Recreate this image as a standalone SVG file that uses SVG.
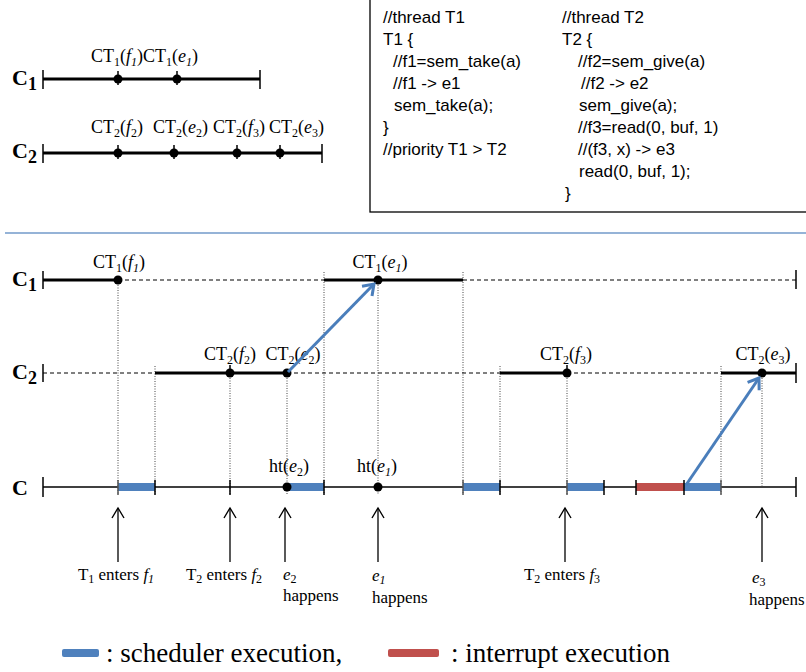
<svg xmlns="http://www.w3.org/2000/svg" width="806" height="672" viewBox="0 0 806 672">
  <style>
    .thick { stroke: #000; stroke-width: 3; fill: none; }
    .thin { stroke: #000; stroke-width: 1.3; fill: none; }
    .dash { stroke: #000; stroke-width: 1; stroke-dasharray: 4 3; fill: none; }
    .vdot { stroke: #444; stroke-width: 1; stroke-dasharray: 1 1.5; fill: none; }
    .tick { stroke: #000; stroke-width: 1.5; }
    .gtick { stroke: #555; stroke-width: 1.5; }
    .pt { fill: #000; }
    .lbl { font-family: "Liberation Serif", "Times New Roman", serif; font-size: 18px; fill: #000; }
    .note { font-family: "Liberation Serif", "Times New Roman", serif; font-size: 17px; fill: #000; }
    .sub { font-size: 12px; }
    .it { font-style: italic; }
    .row { font-family: "Liberation Serif", "Times New Roman", serif; font-size: 22px; font-weight: bold; fill: #000; }
    .rsub { font-size: 18px; }
    .code { font-family: "Liberation Sans", Arial, sans-serif; font-size: 17px; fill: #000; }
    .sched { fill: #4f81bd; }
    .intr { fill: #c0504d; }
    .blue { stroke: #4a7ebb; stroke-width: 3; fill: none; }
    .up { stroke: #000; stroke-width: 1.3; fill: none; }
    .legend { font-family: "Liberation Serif", "Times New Roman", serif; font-size: 27px; fill: #000; }
  </style>
  <defs>
    <marker id="blueHead" markerUnits="userSpaceOnUse" markerWidth="20" markerHeight="20" refX="0" refY="0" viewBox="-12 -10 14 20" orient="auto">
      <path d="M -10 -7 L 0 0 L -10 7" fill="none" stroke="#4a7ebb" stroke-width="3"/>
    </marker>
    <marker id="upHead" markerUnits="userSpaceOnUse" markerWidth="20" markerHeight="20" refX="0" refY="0" viewBox="-12 -10 14 20" orient="auto">
      <path d="M -10 -6 L 0 0 L -10 6" fill="none" stroke="#000" stroke-width="1.4"/>
    </marker>
  </defs>
  <rect width="806" height="672" fill="#fff"/>

  <!-- Overview timelines -->
  <g id="overview">
    <text class="row" x="12" y="85">C<tspan class="rsub" dy="5">1</tspan></text>
    <line class="thick" x1="43" y1="79" x2="260" y2="79"/>
    <line class="tick" x1="43" y1="70" x2="43" y2="89"/>
    <line class="tick" x1="260" y1="70" x2="260" y2="89"/>
    <line class="tick" x1="118" y1="71" x2="118" y2="85"/>
    <line class="tick" x1="177" y1="71" x2="177" y2="85"/>
    <circle class="pt" cx="118" cy="79" r="4.5"/>
    <circle class="pt" cx="177" cy="79" r="4.5"/>
    <text class="lbl" x="91" y="62">CT<tspan class="sub" dy="4">1</tspan><tspan dy="-4">(</tspan><tspan class="it">f</tspan><tspan class="sub it" dy="4">1</tspan><tspan dy="-4">)CT</tspan><tspan class="sub" dy="4">1</tspan><tspan dy="-4">(</tspan><tspan class="it">e</tspan><tspan class="sub it" dy="4">1</tspan><tspan dy="-4">)</tspan></text>

    <text class="row" x="12" y="158">C<tspan class="rsub" dy="5">2</tspan></text>
    <line class="thick" x1="43" y1="153" x2="322" y2="153"/>
    <line class="tick" x1="43" y1="144" x2="43" y2="163"/>
    <line class="tick" x1="322" y1="144" x2="322" y2="163"/>
    <line class="tick" x1="118" y1="145" x2="118" y2="159"/>
    <line class="tick" x1="174" y1="145" x2="174" y2="159"/>
    <line class="tick" x1="237" y1="145" x2="237" y2="159"/>
    <line class="tick" x1="280" y1="145" x2="280" y2="159"/>
    <circle class="pt" cx="118" cy="153" r="4.5"/>
    <circle class="pt" cx="174" cy="153" r="4.5"/>
    <circle class="pt" cx="237" cy="153" r="4.5"/>
    <circle class="pt" cx="280" cy="153" r="4.5"/>
    <text class="lbl" x="91" y="133">CT<tspan class="sub" dy="4">2</tspan><tspan dy="-4">(</tspan><tspan class="it">f</tspan><tspan class="sub" dy="4">2</tspan><tspan dy="-4">)</tspan></text>
    <text class="lbl" x="153" y="133">CT<tspan class="sub" dy="4">2</tspan><tspan dy="-4">(</tspan><tspan class="it">e</tspan><tspan class="sub" dy="4">2</tspan><tspan dy="-4">)</tspan></text>
    <text class="lbl" x="213" y="133">CT<tspan class="sub" dy="4">2</tspan><tspan dy="-4">(</tspan><tspan class="it">f</tspan><tspan class="sub" dy="4">3</tspan><tspan dy="-4">)</tspan></text>
    <text class="lbl" x="269" y="133">CT<tspan class="sub" dy="4">2</tspan><tspan dy="-4">(</tspan><tspan class="it">e</tspan><tspan class="sub" dy="4">3</tspan><tspan dy="-4">)</tspan></text>
  </g>

  <!-- Source listing -->
  <g id="code">
    <rect x="370" y="-2" width="450" height="214" fill="#fff" stroke="#000" stroke-width="1.3"/>
    <text class="code" x="383" y="23">//thread T1</text>
    <text class="code" x="383" y="45">T1 {</text>
    <text class="code" x="393" y="67">//f1=sem_take(a)</text>
    <text class="code" x="393" y="89">//f1 -&gt; e1</text>
    <text class="code" x="394" y="111">sem_take(a);</text>
    <text class="code" x="383" y="133">}</text>
    <text class="code" x="383" y="155">//priority T1 &gt; T2</text>
    <text class="code" x="562" y="23">//thread T2</text>
    <text class="code" x="562" y="45">T2 {</text>
    <text class="code" x="578" y="67">//f2=sem_give(a)</text>
    <text class="code" x="581" y="89">//f2 -&gt; e2</text>
    <text class="code" x="579" y="111">sem_give(a);</text>
    <text class="code" x="578" y="133">//f3=read(0, buf, 1)</text>
    <text class="code" x="578" y="155">//(f3, x) -&gt; e3</text>
    <text class="code" x="579" y="177">read(0, buf, 1);</text>
    <text class="code" x="565" y="199">}</text>
  </g>

  <line x1="5" y1="233" x2="806" y2="233" stroke="#95b3d7" stroke-width="2"/>

  <!-- Detailed timeline guides -->
  <g id="guides">
    <line class="vdot" x1="118" y1="280" x2="118" y2="494"/>
    <line class="vdot" x1="155" y1="366" x2="155" y2="494"/>
    <line class="vdot" x1="230" y1="373" x2="230" y2="494"/>
    <line class="vdot" x1="287" y1="373" x2="287" y2="494"/>
    <line class="vdot" x1="324" y1="272" x2="324" y2="494"/>
    <line class="vdot" x1="378" y1="280" x2="378" y2="494"/>
    <line class="vdot" x1="463" y1="272" x2="463" y2="494"/>
    <line class="vdot" x1="500" y1="366" x2="500" y2="494"/>
    <line class="vdot" x1="567" y1="373" x2="567" y2="494"/>
    <line class="vdot" x1="721" y1="366" x2="721" y2="494"/>
    <line class="vdot" x1="762" y1="373" x2="762" y2="486"/>
  </g>

  <!-- Row C1 -->
  <g id="row-c1">
    <text class="row" x="12" y="286">C<tspan class="rsub" dy="5">1</tspan></text>
    <line class="tick" x1="43" y1="271" x2="43" y2="289"/>
    <line class="thick" x1="43" y1="280" x2="118" y2="280"/>
    <line class="dash" x1="118" y1="280" x2="324" y2="280"/>
    <line class="thick" x1="324" y1="280" x2="463" y2="280"/>
    <line class="dash" x1="463" y1="280" x2="796" y2="280"/>
    <line class="tick" x1="796" y1="270" x2="796" y2="289"/>
    <circle class="pt" cx="118" cy="280" r="4.5"/>
    <circle class="pt" cx="378" cy="280" r="4.5"/>
    <text class="lbl" x="119" y="268" text-anchor="middle">CT<tspan class="sub" dy="4">1</tspan><tspan dy="-4">(</tspan><tspan class="it">f</tspan><tspan class="sub it" dy="4">1</tspan><tspan dy="-4">)</tspan></text>
    <text class="lbl" x="380" y="268" text-anchor="middle">CT<tspan class="sub" dy="4">1</tspan><tspan dy="-4">(</tspan><tspan class="it">e</tspan><tspan class="sub it" dy="4">1</tspan><tspan dy="-4">)</tspan></text>
  </g>

  <!-- Row C2 -->
  <g id="row-c2">
    <text class="row" x="12" y="379">C<tspan class="rsub" dy="5">2</tspan></text>
    <line class="tick" x1="43" y1="364" x2="43" y2="382"/>
    <line class="dash" x1="43" y1="373" x2="155" y2="373"/>
    <line class="thick" x1="155" y1="373" x2="287" y2="373"/>
    <line class="dash" x1="287" y1="373" x2="500" y2="373"/>
    <line class="thick" x1="500" y1="373" x2="567" y2="373"/>
    <line class="dash" x1="567" y1="373" x2="721" y2="373"/>
    <line class="thick" x1="721" y1="373" x2="796" y2="373"/>
    <line class="tick" x1="796" y1="363" x2="796" y2="383"/>
    <line class="tick" x1="230" y1="365" x2="230" y2="373"/>
    <line class="tick" x1="567" y1="365" x2="567" y2="373"/>
    <circle class="pt" cx="230" cy="373" r="4.5"/>
    <circle class="pt" cx="287" cy="373" r="4.5"/>
    <circle class="pt" cx="567" cy="373" r="4.5"/>
    <circle class="pt" cx="762" cy="373" r="4.5"/>
    <text class="lbl" x="230" y="360" text-anchor="middle">CT<tspan class="sub" dy="4">2</tspan><tspan dy="-4">(</tspan><tspan class="it">f</tspan><tspan class="sub" dy="4">2</tspan><tspan dy="-4">)</tspan></text>
    <text class="lbl" x="293" y="360" text-anchor="middle">CT<tspan class="sub" dy="4">2</tspan><tspan dy="-4">(</tspan><tspan class="it">e</tspan><tspan class="sub" dy="4">2</tspan><tspan dy="-4">)</tspan></text>
    <text class="lbl" x="566" y="360" text-anchor="middle">CT<tspan class="sub" dy="4">2</tspan><tspan dy="-4">(</tspan><tspan class="it">f</tspan><tspan class="sub" dy="4">3</tspan><tspan dy="-4">)</tspan></text>
    <text class="lbl" x="763" y="360" text-anchor="middle">CT<tspan class="sub" dy="4">2</tspan><tspan dy="-4">(</tspan><tspan class="it">e</tspan><tspan class="sub" dy="4">3</tspan><tspan dy="-4">)</tspan></text>
  </g>

  <!-- Row C (hardware time) -->
  <g id="row-c">
    <text class="row" x="12" y="495">C</text>
    <line class="thin" x1="43" y1="487" x2="796" y2="487"/>
    <line class="tick" x1="43" y1="477" x2="43" y2="497"/>
    <line class="tick" x1="796" y1="477" x2="796" y2="497"/>
    <rect class="sched" x="118" y="483" width="37" height="8"/>
    <rect class="sched" x="287" y="483" width="37" height="8"/>
    <rect class="sched" x="463" y="483" width="37" height="8"/>
    <rect class="sched" x="567" y="483" width="37" height="8"/>
    <rect class="intr" x="636" y="483" width="48" height="8"/>
    <rect class="sched" x="684" y="483" width="37" height="8"/>
    <line class="gtick" x1="118" y1="480" x2="118" y2="495"/>
    <line class="tick" x1="155" y1="480" x2="155" y2="495"/>
    <line class="tick" x1="230" y1="480" x2="230" y2="495"/>
    <line class="tick" x1="324" y1="480" x2="324" y2="495"/>
    <line class="gtick" x1="463" y1="480" x2="463" y2="495"/>
    <line class="tick" x1="500" y1="480" x2="500" y2="495"/>
    <line class="gtick" x1="567" y1="480" x2="567" y2="495"/>
    <line class="tick" x1="604" y1="480" x2="604" y2="495"/>
    <line class="tick" x1="636" y1="480" x2="636" y2="495"/>
    <line class="tick" x1="684" y1="480" x2="684" y2="495"/>
    <line class="gtick" x1="721" y1="480" x2="721" y2="495"/>
    <circle class="pt" cx="287" cy="487" r="4.5"/>
    <circle class="pt" cx="378" cy="487" r="4.5"/>
    <text class="lbl" x="289" y="472" text-anchor="middle">ht(<tspan class="it">e</tspan><tspan class="sub" dy="4">2</tspan><tspan dy="-4">)</tspan></text>
    <text class="lbl" x="377" y="472" text-anchor="middle">ht(<tspan class="it">e</tspan><tspan class="sub it" dy="4">1</tspan><tspan dy="-4">)</tspan></text>
  </g>

  <!-- Event markers -->
  <g id="events">
    <line class="up" x1="118" y1="562" x2="118" y2="508" marker-end="url(#upHead)"/>
    <line class="up" x1="230" y1="562" x2="230" y2="508" marker-end="url(#upHead)"/>
    <line class="up" x1="285" y1="562" x2="285" y2="508" marker-end="url(#upHead)"/>
    <line class="up" x1="378" y1="562" x2="378" y2="508" marker-end="url(#upHead)"/>
    <line class="up" x1="565" y1="562" x2="565" y2="508" marker-end="url(#upHead)"/>
    <line class="up" x1="762" y1="562" x2="762" y2="508" marker-end="url(#upHead)"/>
    <text class="note" x="116" y="580" text-anchor="middle">T<tspan class="sub" dy="3">1</tspan><tspan dy="-3"> enters </tspan><tspan class="it">f</tspan><tspan class="sub it" dy="3">1</tspan></text>
    <text class="note" x="224" y="580" text-anchor="middle">T<tspan class="sub" dy="3">2</tspan><tspan dy="-3"> enters </tspan><tspan class="it">f</tspan><tspan class="sub" dy="3">2</tspan></text>
    <text class="note" x="283" y="580"><tspan class="it">e</tspan><tspan class="sub" dy="3">2</tspan></text>
    <text class="note" x="283" y="601">happens</text>
    <text class="note" x="372" y="581"><tspan class="it">e</tspan><tspan class="sub it" dy="3">1</tspan></text>
    <text class="note" x="372" y="603">happens</text>
    <text class="note" x="562" y="580" text-anchor="middle">T<tspan class="sub" dy="3">2</tspan><tspan dy="-3"> enters </tspan><tspan class="it">f</tspan><tspan class="sub" dy="3">3</tspan></text>
    <text class="note" x="752" y="583"><tspan class="it">e</tspan><tspan class="sub" dy="3">3</tspan></text>
    <text class="note" x="749" y="605">happens</text>
  </g>

  <!-- Causality connectors -->
  <g id="connectors">
    <line class="blue" x1="288" y1="372" x2="374" y2="284" marker-end="url(#blueHead)"/>
    <line class="blue" x1="686" y1="485" x2="759" y2="378" marker-end="url(#blueHead)"/>
  </g>

  <!-- Legend -->
  <g id="legend">
    <rect class="sched" x="62" y="649" width="37" height="8" rx="2"/>
    <text class="legend" x="106" y="662">: scheduler execution,</text>
    <rect class="intr" x="388" y="649" width="51" height="8" rx="2"/>
    <text class="legend" x="451" y="662">: interrupt execution</text>
  </g>
</svg>
